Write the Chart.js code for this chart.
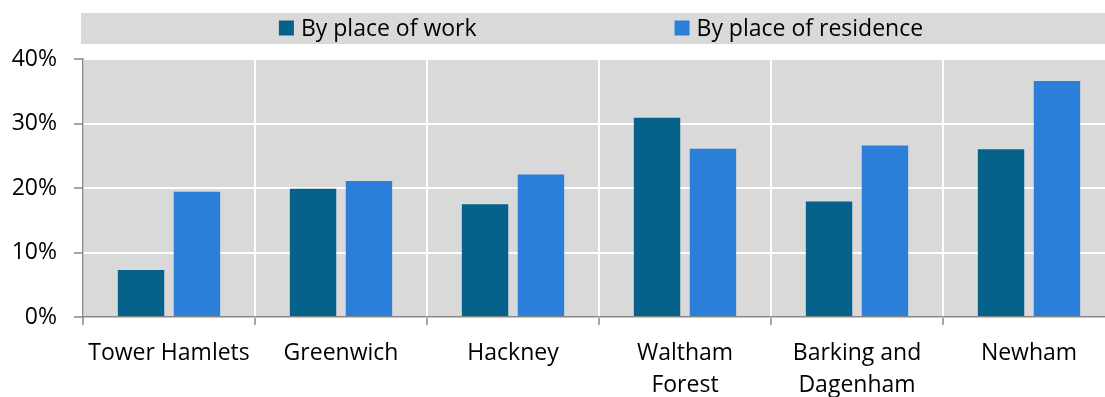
<!DOCTYPE html>
<html>
<head>
<meta charset="utf-8">
<script src="https://cdn.jsdelivr.net/npm/chart.js@4/dist/chart.umd.min.js"></script>
<style>
html, body { margin: 0; padding: 0; background: #fff; overflow: hidden; }
#wrap { width: 1115px; height: 397px; }
</style>
</head>
<body>
<div id="wrap"><canvas id="chart" width="1115" height="397"></canvas></div>
<script>
// categories (multi-line labels as arrays)
var boroughs = ['Tower Hamlets', 'Greenwich', 'Hackney', ['Waltham', 'Forest'], ['Barking and', 'Dagenham'], 'Newham'];

// share of jobs, percent
var byWork      = [7.3, 19.9, 17.5, 30.9, 17.9, 26.0];
var byResidence = [19.4, 21.1, 22.1, 26.1, 26.6, 36.6];

var seriesNames = ['By place of work', 'By place of residence'];
var yMin = 0;
var yMax = 40;
var yStep = 10;

var FONT = '"Open Sans", sans-serif';
var panelGrey = '#d9d9d9';
var axisGrey = '#898989';

//================================================================================
// grey panels + legend band (excel style)
//================================================================================
var excelLook = {
    id: 'excelLook',
    beforeDraw: function (chart) {
        var ctx = chart.ctx;
        var area = chart.chartArea;
        ctx.save();
        ctx.fillStyle = panelGrey;
        ctx.fillRect(area.left - 2, 13, chart.width - area.left + 2, 31);
        ctx.fillRect(area.left, area.top, area.right - area.left, area.bottom - area.top);
        ctx.restore();
    },
    afterDraw: function (chart) {
        var ctx = chart.ctx;
        var sets = chart.data.datasets;
        var box = 15, textGap = 7, itemGap = 198, midY = 28;
        ctx.save();
        ctx.font = '23px ' + FONT;
        var widths = sets.map(function (ds) {
            return box + textGap + ctx.measureText(ds.label).width;
        });
        var total = widths.reduce(function (a, b) { return a + b; }, 0) + itemGap * (sets.length - 1);
        var x = (chart.chartArea.left + chart.width) / 2 - total / 2 + 2;
        ctx.textBaseline = 'middle';
        sets.forEach(function (ds, i) {
            ctx.fillStyle = ds.backgroundColor;
            ctx.fillRect(x, midY - box / 2, box, box);
            ctx.fillStyle = '#000';
            ctx.fillText(ds.label, x + box + textGap, midY + 1);
            x += widths[i] + itemGap;
        });
        ctx.restore();
    }
};

var chart = new Chart(document.getElementById('chart'), {
    type: 'bar',
    data: {
        labels: boroughs,
        datasets: [
            { label: seriesNames[0], data: byWork, backgroundColor: '#04628a' },
            { label: seriesNames[1], data: byResidence, backgroundColor: '#2b7fd8' }
        ]
    },
    options: {
        responsive: false,
        animation: false,
        layout: { padding: { top: 59, right: 0, bottom: 0, left: 0 } },
        datasets: {
            bar: { categoryPercentage: 0.65, barPercentage: 0.83, borderWidth: 0 }
        },
        plugins: {
            legend: { display: false },
            tooltip: { enabled: false }
        },
        scales: {
            x: {
                afterFit: function (scale) { scale.height = 80; },
                grid: {
                    offset: true,
                    color: '#ffffff',
                    lineWidth: 2,
                    tickColor: axisGrey,
                    tickWidth: 1.5,
                    tickLength: 8
                },
                border: { color: axisGrey, width: 1.5 },
                ticks: {
                    maxRotation: 0,
                    autoSkip: false,
                    padding: 13,
                    color: '#000',
                    font: { family: FONT, size: 23, lineHeight: 1.37 }
                }
            },
            y: {
                min: yMin,
                max: yMax,
                afterFit: function (scale) { scale.width = 83; },
                grid: {
                    color: '#ffffff',
                    lineWidth: 2,
                    tickColor: axisGrey,
                    tickWidth: 1.5,
                    tickLength: 9
                },
                border: { color: axisGrey, width: 1.5 },
                ticks: {
                    stepSize: yStep,
                    padding: 17,
                    color: '#000',
                    font: { family: FONT, size: 23 },
                    callback: function (v) { return v + '%'; }
                }
            }
        }
    },
    plugins: [excelLook]
});
</script>
</body>
</html>
